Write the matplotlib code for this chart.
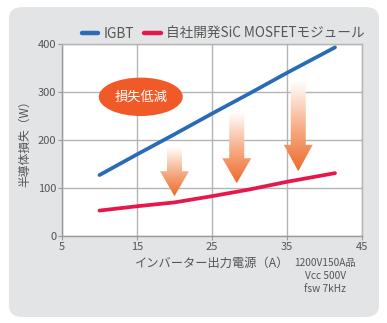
import numpy as np
import matplotlib
matplotlib.use("Agg")
import matplotlib.pyplot as plt
from matplotlib.patches import FancyBboxPatch, Ellipse, Polygon
from matplotlib.colors import LinearSegmentedColormap

plt.rcParams['font.family'] = ['Noto Sans CJK JP', 'DejaVu Sans']

# Inverter output current (A) and semiconductor loss (W)
current = [10, 15, 20, 25, 30, 35, 41.4]
igbt_loss = [127, 170, 212, 255, 297, 340, 393]
sic_loss = [53, 62, 70, 83, 97, 113, 131]

series_labels = ["IGBT", "自社開発SiC MOSFETモジュール"]
x_ticks = [5, 15, 25, 35, 45]
y_ticks = [0, 100, 200, 300, 400]

# Loss-reduction arrows: x position, top of shaft, top of head, tip
arrow_x = [20.0, 28.3, 36.5]
arrow_top = [185, 256, 321]
arrow_head = [135, 162, 190]
arrow_tip = [83, 110, 135]

BLUE = "#2a6bb8"
RED = "#e8174a"
ORANGE = "#f05a28"
GRID = "#b4b4b4"
TEXT = "#555555"

fig = plt.figure(figsize=(3.87, 3.23), dpi=100)

# rounded grey panel behind the chart
panel = FancyBboxPatch((0.0233, 0.0186), 0.9560, 0.9594,
                       boxstyle="round,pad=0,rounding_size=0.035",
                       transform=fig.transFigure, facecolor="#e3e4e5",
                       edgecolor="none", zorder=-10)
fig.patches.append(panel)

ax = fig.add_axes([0.1602, 0.2693, 0.7752, 0.5944])
ax.set_zorder(1)
ax.set_facecolor("white")
ax.set_xlim(5, 45)
ax.set_ylim(0, 400)
ax.set_xticks(x_ticks)
ax.set_yticks(y_ticks)
ax.grid(True, color=GRID, linewidth=1.0, zorder=1)
ax.set_axisbelow(True)
for side in ["top", "right"]:
    ax.spines[side].set_color(GRID)
    ax.spines[side].set_linewidth(1.0)
for side in ["left", "bottom"]:
    ax.spines[side].set_color("#9a9a9a")
    ax.spines[side].set_linewidth(1.0)
ax.tick_params(axis="both", colors="#9a9a9a", labelcolor=TEXT, labelsize=8,
               length=3, width=0.8, pad=1)

# gradient arrows: pale at the top of the shaft, deep orange at the tip
cmap = LinearSegmentedColormap.from_list("fade", ["#ffffff", "#f7b08a", "#ee6a2c"])
hw_shaft, hw_head = 1.0, 1.93
for x, top, head, tip in zip(arrow_x, arrow_top, arrow_head, arrow_tip):
    verts = [(x - hw_shaft, top), (x + hw_shaft, top), (x + hw_shaft, head),
             (x + hw_head, head), (x, tip), (x - hw_head, head),
             (x - hw_shaft, head)]
    poly = Polygon(verts, closed=True, facecolor="none", edgecolor="none",
                   transform=ax.transData)
    ax.add_patch(poly)
    grad = np.linspace(0, 1, 256).reshape(-1, 1)
    im = ax.imshow(grad, cmap=cmap, aspect="auto", vmin=0, vmax=1,
                   extent=[x - hw_head, x + hw_head, tip, top],
                   origin="upper", zorder=2, interpolation="bicubic")
    im.set_clip_path(poly)
ax.set_xlim(5, 45)
ax.set_ylim(0, 400)

# "損失低減" badge
ax.add_patch(Ellipse((15.5, 290), 11.2, 80, facecolor=ORANGE,
                     edgecolor="none", zorder=3))
ax.text(15.5, 290, "損失低減", color="white", fontsize=9.5, ha="center",
        va="center", zorder=4)

l1, = ax.plot(current, igbt_loss, color=BLUE, linewidth=2.7,
              solid_capstyle="round", zorder=5, label=series_labels[0])
l2, = ax.plot(current, sic_loss, color=RED, linewidth=2.7,
              solid_capstyle="round", zorder=5, label=series_labels[1])

leg = fig.legend(handles=[l1, l2], loc="center left", ncol=2,
                 bbox_to_anchor=(0.212, 0.895), frameon=False,
                 fontsize=9.8, handlelength=1.2, handletextpad=0.35,
                 columnspacing=0.8, borderaxespad=0, borderpad=0)
for h in leg.legend_handles:
    h.set_linewidth(3.2)
for t in leg.get_texts():
    t.set_color(TEXT)

fig.text(0.548, 0.186, "インバーター出力電源（A）", fontsize=8.8, color=TEXT,
         ha="center", va="center")
fig.text(0.065, 0.563, "半導体損失（W）", fontsize=8.5, color=TEXT,
         ha="center", va="center", rotation=90)
fig.text(0.84, 0.186, "1200V150A品", fontsize=7.3, color=TEXT,
         ha="center", va="center")
fig.text(0.84, 0.146, "Vcc 500V", fontsize=7.3, color=TEXT,
         ha="center", va="center")
fig.text(0.84, 0.106, "fsw 7kHz", fontsize=7.3, color=TEXT,
         ha="center", va="center")

fig.savefig("out.png", dpi=100)
